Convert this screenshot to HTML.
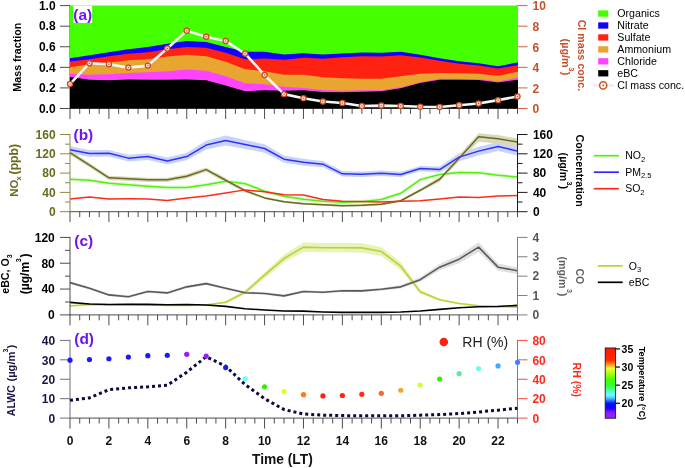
<!DOCTYPE html>
<html><head><meta charset="utf-8"><title>Diurnal variation</title>
<style>html,body{margin:0;padding:0;background:#fff}svg{display:block}</style></head>
<body>
<svg width="685" height="468" viewBox="0 0 685 468" font-family="'Liberation Sans', sans-serif">
<rect width="685" height="468" fill="#fff"/>
<path d="M70.00,108.50v10.4M79.73,108.50v5.4M89.46,108.50v5.4M99.18,108.50v5.4M108.91,108.50v10.4M118.64,108.50v5.4M128.37,108.50v5.4M138.10,108.50v5.4M147.83,108.50v10.4M157.55,108.50v5.4M167.28,108.50v5.4M177.01,108.50v5.4M186.74,108.50v10.4M196.47,108.50v5.4M206.20,108.50v5.4M215.92,108.50v5.4M225.65,108.50v10.4M235.38,108.50v5.4M245.11,108.50v5.4M254.84,108.50v5.4M264.57,108.50v10.4M274.29,108.50v5.4M284.02,108.50v5.4M293.75,108.50v5.4M303.48,108.50v10.4M313.21,108.50v5.4M322.93,108.50v5.4M332.66,108.50v5.4M342.39,108.50v10.4M352.12,108.50v5.4M361.85,108.50v5.4M371.58,108.50v5.4M381.30,108.50v10.4M391.03,108.50v5.4M400.76,108.50v5.4M410.49,108.50v5.4M420.22,108.50v10.4M429.95,108.50v5.4M439.67,108.50v5.4M449.40,108.50v5.4M459.13,108.50v10.4M468.86,108.50v5.4M478.59,108.50v5.4M488.32,108.50v5.4M498.04,108.50v10.4M507.77,108.50v5.4M517.50,108.50v5.4" stroke="#4d4d4d" stroke-width="1" fill="none"/>
<path d="M69.50,108.50H518.00" stroke="#4d4d4d" stroke-width="1" fill="none"/>
<path d="M70.00,5.10V109.00M70.00,5.60h-10M70.00,26.18h-10M70.00,46.76h-10M70.00,67.34h-10M70.00,87.92h-10M70.00,108.50h-10" stroke="#4d4d4d" stroke-width="1" fill="none"/>
<text x="55.6" y="9.90" text-anchor="end" font-size="12" font-weight="bold" fill="#000">1.0</text>
<text x="55.6" y="30.48" text-anchor="end" font-size="12" font-weight="bold" fill="#000">0.8</text>
<text x="55.6" y="51.06" text-anchor="end" font-size="12" font-weight="bold" fill="#000">0.6</text>
<text x="55.6" y="71.64" text-anchor="end" font-size="12" font-weight="bold" fill="#000">0.4</text>
<text x="55.6" y="92.22" text-anchor="end" font-size="12" font-weight="bold" fill="#000">0.2</text>
<text x="55.6" y="112.80" text-anchor="end" font-size="12" font-weight="bold" fill="#000">0.0</text>
<path d="M517.20,5.10V109.00M517.50,5.60h10M517.50,26.18h10M517.50,46.76h10M517.50,67.34h10M517.50,87.92h10M517.50,108.50h10" stroke="#d0623f" stroke-width="1" fill="none"/>
<text x="532.6" y="10.40" font-size="12" font-weight="bold" fill="#c8502a">10</text>
<text x="532.6" y="30.98" font-size="12" font-weight="bold" fill="#c8502a">8</text>
<text x="532.6" y="51.56" font-size="12" font-weight="bold" fill="#c8502a">6</text>
<text x="532.6" y="72.14" font-size="12" font-weight="bold" fill="#c8502a">4</text>
<text x="532.6" y="92.72" font-size="12" font-weight="bold" fill="#c8502a">2</text>
<text x="532.6" y="113.30" font-size="12" font-weight="bold" fill="#c8502a">0</text>
<polygon points="70.00,5.60 89.46,5.60 108.91,5.60 128.37,5.60 147.83,5.60 167.28,5.60 186.74,5.60 206.20,5.60 225.65,5.60 245.11,5.60 264.57,5.60 284.02,5.60 303.48,5.60 322.93,5.60 342.39,5.60 361.85,5.60 381.30,5.60 400.76,5.60 420.22,5.60 439.67,5.60 459.13,5.60 478.59,5.60 498.04,5.60 517.50,5.60 518.00,5.60 518.00,107.00 517.50,107.00 498.04,107.00 478.59,107.00 459.13,107.00 439.67,107.00 420.22,107.00 400.76,107.00 381.30,107.00 361.85,107.00 342.39,107.00 322.93,107.00 303.48,107.00 284.02,107.00 264.57,107.00 245.11,107.00 225.65,107.00 206.20,107.00 186.74,107.00 167.28,107.00 147.83,107.00 128.37,107.00 108.91,107.00 89.46,107.00 70.00,107.00" fill="#44ff00"/>
<polygon points="70.00,58.17 89.46,55.15 108.91,52.14 128.37,49.13 147.83,47.12 167.28,43.70 186.74,41.09 206.20,42.10 225.65,47.12 245.11,51.74 264.57,51.74 284.02,54.55 303.48,53.15 322.93,54.55 342.39,53.55 361.85,52.54 381.30,52.74 400.76,51.74 420.22,54.75 439.67,58.17 459.13,61.18 478.59,63.19 498.04,66.20 517.50,62.59 518.00,62.59 518.00,107.00 517.50,107.00 498.04,107.00 478.59,107.00 459.13,107.00 439.67,107.00 420.22,107.00 400.76,107.00 381.30,107.00 361.85,107.00 342.39,107.00 322.93,107.00 303.48,107.00 284.02,107.00 264.57,107.00 245.11,107.00 225.65,107.00 206.20,107.00 186.74,107.00 167.28,107.00 147.83,107.00 128.37,107.00 108.91,107.00 89.46,107.00 70.00,107.00" fill="#1100ff"/>
<polygon points="70.00,61.38 89.46,59.17 108.91,56.16 128.37,53.75 147.83,52.14 167.28,49.13 186.74,47.12 206.20,47.72 225.65,52.74 245.11,59.37 264.57,58.57 284.02,59.78 303.48,57.77 322.93,58.77 342.39,57.16 361.85,56.16 381.30,56.56 400.76,55.15 420.22,57.57 439.67,60.78 459.13,63.79 478.59,65.60 498.04,68.61 517.50,65.20 518.00,65.20 518.00,107.00 517.50,107.00 498.04,107.00 478.59,107.00 459.13,107.00 439.67,107.00 420.22,107.00 400.76,107.00 381.30,107.00 361.85,107.00 342.39,107.00 322.93,107.00 303.48,107.00 284.02,107.00 264.57,107.00 245.11,107.00 225.65,107.00 206.20,107.00 186.74,107.00 167.28,107.00 147.83,107.00 128.37,107.00 108.91,107.00 89.46,107.00 70.00,107.00" fill="#ff2211"/>
<polygon points="70.00,67.21 89.46,64.19 108.91,62.59 128.37,60.18 147.83,59.17 167.28,56.56 186.74,54.75 206.20,56.16 225.65,61.78 245.11,69.22 264.57,71.23 284.02,74.64 303.48,74.64 322.93,77.25 342.39,78.26 361.85,78.86 381.30,78.66 400.76,76.25 420.22,73.84 439.67,73.03 459.13,73.23 478.59,73.84 498.04,75.85 517.50,71.83 518.00,71.83 518.00,107.00 517.50,107.00 498.04,107.00 478.59,107.00 459.13,107.00 439.67,107.00 420.22,107.00 400.76,107.00 381.30,107.00 361.85,107.00 342.39,107.00 322.93,107.00 303.48,107.00 284.02,107.00 264.57,107.00 245.11,107.00 225.65,107.00 206.20,107.00 186.74,107.00 167.28,107.00 147.83,107.00 128.37,107.00 108.91,107.00 89.46,107.00 70.00,107.00" fill="#e8a530"/>
<polygon points="70.00,73.84 89.46,74.64 108.91,74.24 128.37,73.03 147.83,72.23 167.28,71.23 186.74,69.42 206.20,70.82 225.65,76.25 245.11,83.28 264.57,84.28 284.02,86.69 303.48,87.90 322.93,89.91 342.39,90.71 361.85,90.31 381.30,90.31 400.76,87.30 420.22,82.27 439.67,78.86 459.13,79.06 478.59,79.26 498.04,81.27 517.50,77.85 518.00,77.85 518.00,107.00 517.50,107.00 498.04,107.00 478.59,107.00 459.13,107.00 439.67,107.00 420.22,107.00 400.76,107.00 381.30,107.00 361.85,107.00 342.39,107.00 322.93,107.00 303.48,107.00 284.02,107.00 264.57,107.00 245.11,107.00 225.65,107.00 206.20,107.00 186.74,107.00 167.28,107.00 147.83,107.00 128.37,107.00 108.91,107.00 89.46,107.00 70.00,107.00" fill="#ff44ff"/>
<polygon points="70.00,77.05 89.46,79.86 108.91,80.27 128.37,79.46 147.83,79.66 167.28,79.86 186.74,79.46 206.20,80.27 225.65,85.49 245.11,91.31 264.57,90.31 284.02,90.71 303.48,90.31 322.93,91.92 342.39,92.32 361.85,91.72 381.30,91.31 400.76,88.30 420.22,83.08 439.67,79.86 459.13,79.86 478.59,80.06 498.04,82.47 517.50,79.66 518.00,79.66 518.00,108.50 517.50,108.50 498.04,108.50 478.59,108.50 459.13,108.50 439.67,108.50 420.22,108.50 400.76,108.50 381.30,108.50 361.85,108.50 342.39,108.50 322.93,108.50 303.48,108.50 284.02,108.50 264.57,108.50 245.11,108.50 225.65,108.50 206.20,108.50 186.74,108.50 167.28,108.50 147.83,108.50 128.37,108.50 108.91,108.50 89.46,108.50 70.00,108.50" fill="#000"/>
<rect x="73.3" y="5.8" width="18.8" height="17.2" fill="#fff"/>
<polyline points="70.00,84.08 89.46,63.19 108.91,64.19 128.37,67.61 147.83,65.60 167.28,48.53 186.74,30.65 206.20,36.67 225.65,41.09 245.11,53.55 264.57,75.04 284.02,94.13 303.48,98.34 322.93,101.56 342.39,102.97 361.85,105.98 381.30,105.58 400.76,105.98 420.22,106.78 439.67,106.98 459.13,105.17 478.59,103.57 498.04,100.15 517.50,96.54" fill="none" stroke="#f7f7f7" stroke-width="2.6" stroke-linejoin="round"/>
<circle cx="70.00" cy="84.08" r="2.6" fill="#f7dccf" stroke="#cc4a1e" stroke-width="1.25"/>
<circle cx="70.00" cy="84.08" r="0.7" fill="#c8502a"/>
<circle cx="89.46" cy="63.19" r="2.6" fill="#f7dccf" stroke="#cc4a1e" stroke-width="1.25"/>
<circle cx="89.46" cy="63.19" r="0.7" fill="#c8502a"/>
<circle cx="108.91" cy="64.19" r="2.6" fill="#f7dccf" stroke="#cc4a1e" stroke-width="1.25"/>
<circle cx="108.91" cy="64.19" r="0.7" fill="#c8502a"/>
<circle cx="128.37" cy="67.61" r="2.6" fill="#f7dccf" stroke="#cc4a1e" stroke-width="1.25"/>
<circle cx="128.37" cy="67.61" r="0.7" fill="#c8502a"/>
<circle cx="147.83" cy="65.60" r="2.6" fill="#f7dccf" stroke="#cc4a1e" stroke-width="1.25"/>
<circle cx="147.83" cy="65.60" r="0.7" fill="#c8502a"/>
<circle cx="167.28" cy="48.53" r="2.6" fill="#f7dccf" stroke="#cc4a1e" stroke-width="1.25"/>
<circle cx="167.28" cy="48.53" r="0.7" fill="#c8502a"/>
<circle cx="186.74" cy="30.65" r="2.6" fill="#f7dccf" stroke="#cc4a1e" stroke-width="1.25"/>
<circle cx="186.74" cy="30.65" r="0.7" fill="#c8502a"/>
<circle cx="206.20" cy="36.67" r="2.6" fill="#f7dccf" stroke="#cc4a1e" stroke-width="1.25"/>
<circle cx="206.20" cy="36.67" r="0.7" fill="#c8502a"/>
<circle cx="225.65" cy="41.09" r="2.6" fill="#f7dccf" stroke="#cc4a1e" stroke-width="1.25"/>
<circle cx="225.65" cy="41.09" r="0.7" fill="#c8502a"/>
<circle cx="245.11" cy="53.55" r="2.6" fill="#f7dccf" stroke="#cc4a1e" stroke-width="1.25"/>
<circle cx="245.11" cy="53.55" r="0.7" fill="#c8502a"/>
<circle cx="264.57" cy="75.04" r="2.6" fill="#f7dccf" stroke="#cc4a1e" stroke-width="1.25"/>
<circle cx="264.57" cy="75.04" r="0.7" fill="#c8502a"/>
<circle cx="284.02" cy="94.13" r="2.6" fill="#f7dccf" stroke="#cc4a1e" stroke-width="1.25"/>
<circle cx="284.02" cy="94.13" r="0.7" fill="#c8502a"/>
<circle cx="303.48" cy="98.34" r="2.6" fill="#f7dccf" stroke="#cc4a1e" stroke-width="1.25"/>
<circle cx="303.48" cy="98.34" r="0.7" fill="#c8502a"/>
<circle cx="322.93" cy="101.56" r="2.6" fill="#f7dccf" stroke="#cc4a1e" stroke-width="1.25"/>
<circle cx="322.93" cy="101.56" r="0.7" fill="#c8502a"/>
<circle cx="342.39" cy="102.97" r="2.6" fill="#f7dccf" stroke="#cc4a1e" stroke-width="1.25"/>
<circle cx="342.39" cy="102.97" r="0.7" fill="#c8502a"/>
<circle cx="361.85" cy="105.98" r="2.6" fill="#f7dccf" stroke="#cc4a1e" stroke-width="1.25"/>
<circle cx="361.85" cy="105.98" r="0.7" fill="#c8502a"/>
<circle cx="381.30" cy="105.58" r="2.6" fill="#f7dccf" stroke="#cc4a1e" stroke-width="1.25"/>
<circle cx="381.30" cy="105.58" r="0.7" fill="#c8502a"/>
<circle cx="400.76" cy="105.98" r="2.6" fill="#f7dccf" stroke="#cc4a1e" stroke-width="1.25"/>
<circle cx="400.76" cy="105.98" r="0.7" fill="#c8502a"/>
<circle cx="420.22" cy="106.78" r="2.6" fill="#f7dccf" stroke="#cc4a1e" stroke-width="1.25"/>
<circle cx="420.22" cy="106.78" r="0.7" fill="#c8502a"/>
<circle cx="439.67" cy="106.98" r="2.6" fill="#f7dccf" stroke="#cc4a1e" stroke-width="1.25"/>
<circle cx="439.67" cy="106.98" r="0.7" fill="#c8502a"/>
<circle cx="459.13" cy="105.17" r="2.6" fill="#f7dccf" stroke="#cc4a1e" stroke-width="1.25"/>
<circle cx="459.13" cy="105.17" r="0.7" fill="#c8502a"/>
<circle cx="478.59" cy="103.57" r="2.6" fill="#f7dccf" stroke="#cc4a1e" stroke-width="1.25"/>
<circle cx="478.59" cy="103.57" r="0.7" fill="#c8502a"/>
<circle cx="498.04" cy="100.15" r="2.6" fill="#f7dccf" stroke="#cc4a1e" stroke-width="1.25"/>
<circle cx="498.04" cy="100.15" r="0.7" fill="#c8502a"/>
<circle cx="517.50" cy="96.54" r="2.6" fill="#f7dccf" stroke="#cc4a1e" stroke-width="1.25"/>
<circle cx="517.50" cy="96.54" r="0.7" fill="#c8502a"/>
<text x="73.3" y="20.1" font-size="15.4" font-weight="bold" fill="#6e14f0">(a)</text>
<text transform="translate(20.5,57.2) rotate(-90)" text-anchor="middle" font-size="10.7" font-weight="bold" fill="#000">Mass fraction</text>
<text transform="translate(578.4,0) rotate(90)" font-weight="bold" fill="#c8502a"><tspan x="19.70" y="0.00" font-size="10.65">Cl mass conc.</tspan></text>
<text transform="translate(561.9,0) rotate(90)" font-weight="bold" fill="#c8502a"><tspan x="38.60" y="0.00" font-size="10.8">(µg/m</tspan><tspan x="67.20" y="-7.00" font-size="7.5">3</tspan><tspan x="71.80" y="0.00" font-size="10.8">)</tspan></text>
<rect x="598.2" y="10.40" width="10.1" height="6.3" fill="#44ff00"/>
<text x="617.3" y="17.20" font-size="10.65" fill="#000">Organics</text>
<rect x="598.2" y="22.35" width="10.1" height="6.3" fill="#1100ff"/>
<text x="617.3" y="29.15" font-size="10.65" fill="#000">Nitrate</text>
<rect x="598.2" y="34.30" width="10.1" height="6.3" fill="#ff2211"/>
<text x="617.3" y="41.10" font-size="10.65" fill="#000">Sulfate</text>
<rect x="598.2" y="46.25" width="10.1" height="6.3" fill="#e8a530"/>
<text x="617.3" y="53.05" font-size="10.65" fill="#000">Ammonium</text>
<rect x="598.2" y="58.20" width="10.1" height="6.3" fill="#ff44ff"/>
<text x="617.3" y="65.00" font-size="10.65" fill="#000">Chloride</text>
<rect x="598.2" y="70.15" width="10.1" height="6.3" fill="#000"/>
<text x="617.3" y="76.95" font-size="10.65" fill="#000">eBC</text>
<path d="M593,85.40H613.5" stroke="#ececec" stroke-width="2.4"/>
<circle cx="603.2" cy="85.40" r="3.55" fill="#fff" stroke="#d0501e" stroke-width="1.5"/>
<circle cx="603.2" cy="85.40" r="0.9" fill="#c8502a"/>
<text x="617.3" y="89.00" font-size="10.65" fill="#000">Cl mass conc.</text>
<polygon points="70.00,146.20 89.46,150.12 108.91,150.02 128.37,154.84 147.83,153.13 167.28,157.45 186.74,152.73 206.20,140.78 225.65,135.46 245.11,139.98 264.57,144.20 284.02,155.45 303.48,158.66 322.93,161.07 342.39,171.01 361.85,171.51 381.30,170.51 400.76,171.71 420.22,165.89 439.67,166.59 459.13,153.14 478.59,146.81 498.04,141.99 517.50,146.61 517.50,155.61 498.04,150.99 478.59,155.41 459.13,161.14 439.67,172.59 420.22,171.29 400.76,177.11 381.30,175.91 361.85,176.91 342.39,176.61 322.93,167.27 303.48,165.66 284.02,162.85 264.57,152.80 245.11,148.98 225.65,145.46 206.20,149.38 186.74,160.33 167.28,164.45 147.83,159.93 128.37,161.44 108.91,156.62 89.46,156.92 70.00,153.20" fill="#c9d4fb"/>
<polygon points="70.00,150.52 89.46,162.97 108.91,175.63 128.37,176.63 147.83,177.64 167.28,177.64 186.74,174.02 206.20,167.39 225.65,178.04 245.11,189.18 264.57,196.82 284.02,200.63 303.48,202.64 322.93,203.65 342.39,204.65 361.85,204.25 381.30,203.24 400.76,199.63 420.22,188.78 439.67,176.83 459.13,155.14 478.59,133.15 498.04,135.06 517.50,138.47 517.50,147.27 498.04,143.86 478.59,141.65 459.13,161.14 439.67,181.63 420.22,191.78 400.76,201.83 381.30,205.44 361.85,206.45 342.39,206.85 322.93,205.85 303.48,204.84 284.02,202.83 264.57,199.02 245.11,192.18 225.65,182.44 206.20,171.79 186.74,178.42 167.28,182.04 147.83,182.04 128.37,181.03 108.91,180.03 89.46,167.37 70.00,154.92" fill="#d9d9c0"/>
<polygon points="70.00,177.23 89.46,178.24 108.91,181.25 128.37,182.66 147.83,184.27 167.28,185.47 186.74,185.47 206.20,182.86 225.65,179.24 245.11,181.65 264.57,189.29 284.02,194.31 303.48,197.32 322.93,199.33 342.39,200.34 361.85,199.73 381.30,197.52 400.76,191.30 420.22,177.64 439.67,172.41 459.13,170.61 478.59,170.81 498.04,173.22 517.50,175.02 517.50,179.02 498.04,177.22 478.59,174.81 459.13,174.61 439.67,176.41 420.22,181.64 400.76,195.30 381.30,201.52 361.85,203.73 342.39,204.34 322.93,203.33 303.48,201.32 284.02,198.31 264.57,193.29 245.11,185.65 225.65,183.24 206.20,186.86 186.74,189.47 167.28,189.47 147.83,188.27 128.37,186.66 108.91,185.25 89.46,182.24 70.00,181.23" fill="#e2fbd6"/>
<polyline points="70.00,179.23 89.46,180.24 108.91,183.25 128.37,184.66 147.83,186.27 167.28,187.47 186.74,187.47 206.20,184.86 225.65,181.24 245.11,183.65 264.57,191.29 284.02,196.31 303.48,199.32 322.93,201.33 342.39,202.34 361.85,201.73 381.30,199.52 400.76,193.30 420.22,179.64 439.67,174.41 459.13,172.61 478.59,172.81 498.04,175.22 517.50,177.02" fill="none" stroke="#55ee11" stroke-width="1.5" stroke-linejoin="round"/>
<polyline points="70.00,152.72 89.46,165.17 108.91,177.83 128.37,178.83 147.83,179.84 167.28,179.84 186.74,176.22 206.20,169.59 225.65,180.24 245.11,190.68 264.57,197.92 284.02,201.73 303.48,203.74 322.93,204.75 342.39,205.75 361.85,205.35 381.30,204.34 400.76,200.73 420.22,190.28 439.67,179.23 459.13,158.14 478.59,136.65 498.04,138.66 517.50,142.07" fill="none" stroke="#6b6b1e" stroke-width="1.5" stroke-linejoin="round"/>
<polyline points="70.00,199.12 89.46,196.91 108.91,198.92 128.37,198.72 147.83,198.92 167.28,200.53 186.74,197.92 206.20,195.91 225.65,192.89 245.11,189.88 264.57,191.69 284.02,194.70 303.48,194.90 322.93,199.52 342.39,201.33 361.85,201.53 381.30,201.93 400.76,201.33 420.22,200.73 439.67,198.92 459.13,197.11 478.59,197.51 498.04,196.11 517.50,195.51" fill="none" stroke="#ff2a1a" stroke-width="1.5" stroke-linejoin="round"/>
<polyline points="70.00,149.70 89.46,153.52 108.91,153.32 128.37,158.14 147.83,156.53 167.28,160.95 186.74,156.53 206.20,145.08 225.65,140.46 245.11,144.48 264.57,148.50 284.02,159.15 303.48,162.16 322.93,164.17 342.39,173.81 361.85,174.21 381.30,173.21 400.76,174.41 420.22,168.59 439.67,169.59 459.13,157.14 478.59,151.11 498.04,146.49 517.50,151.11" fill="none" stroke="#3030ff" stroke-width="1.5" stroke-linejoin="round"/>
<path d="M70.00,211.70v10.4M79.73,211.70v5.4M89.46,211.70v5.4M99.18,211.70v5.4M108.91,211.70v10.4M118.64,211.70v5.4M128.37,211.70v5.4M138.10,211.70v5.4M147.83,211.70v10.4M157.55,211.70v5.4M167.28,211.70v5.4M177.01,211.70v5.4M186.74,211.70v10.4M196.47,211.70v5.4M206.20,211.70v5.4M215.92,211.70v5.4M225.65,211.70v10.4M235.38,211.70v5.4M245.11,211.70v5.4M254.84,211.70v5.4M264.57,211.70v10.4M274.29,211.70v5.4M284.02,211.70v5.4M293.75,211.70v5.4M303.48,211.70v10.4M313.21,211.70v5.4M322.93,211.70v5.4M332.66,211.70v5.4M342.39,211.70v10.4M352.12,211.70v5.4M361.85,211.70v5.4M371.58,211.70v5.4M381.30,211.70v10.4M391.03,211.70v5.4M400.76,211.70v5.4M410.49,211.70v5.4M420.22,211.70v10.4M429.95,211.70v5.4M439.67,211.70v5.4M449.40,211.70v5.4M459.13,211.70v10.4M468.86,211.70v5.4M478.59,211.70v5.4M488.32,211.70v5.4M498.04,211.70v10.4M507.77,211.70v5.4M517.50,211.70v5.4" stroke="#4d4d4d" stroke-width="1" fill="none"/>
<path d="M69.50,211.70H518.00" stroke="#4d4d4d" stroke-width="1" fill="none"/>
<path d="M70.00,134.00V212.20M70.00,134.50h-10M70.00,144.15h-5M70.00,153.80h-10M70.00,163.45h-5M70.00,173.10h-10M70.00,182.75h-5M70.00,192.40h-10M70.00,202.05h-5M70.00,211.70h-10" stroke="#8a8a4a" stroke-width="1" fill="none"/>
<text x="55.6" y="138.80" text-anchor="end" font-size="12" font-weight="bold" fill="#6b6b1e">160</text>
<text x="55.6" y="158.10" text-anchor="end" font-size="12" font-weight="bold" fill="#6b6b1e">120</text>
<text x="55.6" y="177.40" text-anchor="end" font-size="12" font-weight="bold" fill="#6b6b1e">80</text>
<text x="55.6" y="196.70" text-anchor="end" font-size="12" font-weight="bold" fill="#6b6b1e">40</text>
<text x="55.6" y="216.00" text-anchor="end" font-size="12" font-weight="bold" fill="#6b6b1e">0</text>
<path d="M517.50,134.00V212.20M517.50,134.50h10M517.50,144.15h5M517.50,153.80h10M517.50,163.45h5M517.50,173.10h10M517.50,182.75h5M517.50,192.40h10M517.50,202.05h5M517.50,211.70h10" stroke="#1a1a1a" stroke-width="1" fill="none"/>
<text x="532.9" y="138.80" font-size="12" font-weight="bold" fill="#000">160</text>
<text x="532.9" y="158.10" font-size="12" font-weight="bold" fill="#000">120</text>
<text x="532.9" y="177.40" font-size="12" font-weight="bold" fill="#000">80</text>
<text x="532.9" y="196.70" font-size="12" font-weight="bold" fill="#000">40</text>
<text x="532.9" y="216.00" font-size="12" font-weight="bold" fill="#000">0</text>
<text x="73.6" y="139.6" font-size="15.4" font-weight="bold" fill="#6e14f0">(b)</text>
<text transform="translate(18.2,0) rotate(-90)" font-weight="bold" fill="#6b6b1e"><tspan x="-196.70" y="0.00" font-size="11.3">NO</tspan><tspan x="-180.40" y="2.70" font-size="7.5">x</tspan><tspan x="-174.40" y="0.00" font-size="12.2">(ppb)</tspan></text>
<text transform="translate(576.0,0) rotate(90)" font-weight="bold" fill="#000"><tspan x="134.60" y="0.00" font-size="10.66">Concentration</tspan></text>
<text transform="translate(559.6,0) rotate(90)" font-weight="bold" fill="#000"><tspan x="152.60" y="0.00" font-size="10.7">(µg/m</tspan><tspan x="181.40" y="-7.40" font-size="7">3</tspan><tspan x="185.50" y="0.00" font-size="10.7">)</tspan></text>
<path d="M593.8,155.70H618.9" stroke="#55ee11" stroke-width="1.7"/>
<text x="625.2" y="159.20" font-size="10.5" fill="#000">NO<tspan dy="2.6" font-size="7.5">2</tspan></text>
<path d="M593.8,172.20H618.9" stroke="#2a2aff" stroke-width="1.7"/>
<text x="625.2" y="175.70" font-size="10.5" fill="#000">PM<tspan dy="2.6" font-size="7.5">2.5</tspan></text>
<path d="M593.8,188.70H618.9" stroke="#ff2a1a" stroke-width="1.7"/>
<text x="625.2" y="192.20" font-size="10.5" fill="#000">SO<tspan dy="2.6" font-size="7.5">2</tspan></text>
<polygon points="70.00,305.34 89.46,303.74 108.91,304.14 128.37,303.94 147.83,304.34 167.28,304.74 186.74,304.74 206.20,304.34 225.65,301.13 245.11,290.28 264.57,272.21 284.02,254.53 303.48,242.48 322.93,243.09 342.39,243.09 361.85,243.29 381.30,247.00 400.76,262.17 420.22,289.68 439.67,298.72 459.13,302.83 478.59,305.14 498.04,305.74 517.50,306.55 517.50,307.75 498.04,306.94 478.59,306.34 459.13,304.23 439.67,300.72 420.22,293.68 400.76,270.17 381.30,256.00 361.85,252.49 342.39,252.29 322.93,252.29 303.48,251.68 284.02,262.53 264.57,278.21 245.11,294.28 225.65,303.53 206.20,305.54 186.74,305.94 167.28,305.94 147.83,305.54 128.37,305.14 108.91,305.34 89.46,304.94 70.00,306.54" fill="#e6f3bb"/>
<polygon points="70.00,281.34 89.46,286.97 108.91,293.59 128.37,295.40 147.83,290.18 167.28,291.59 186.74,285.56 206.20,282.34 225.65,286.97 245.11,291.38 264.57,292.19 284.02,294.60 303.48,290.18 322.93,290.98 342.39,289.38 361.85,289.58 381.30,287.97 400.76,285.26 420.22,277.23 439.67,263.97 459.13,255.14 478.59,242.28 498.04,263.57 517.50,267.49 517.50,274.09 498.04,270.77 478.59,251.88 459.13,263.14 439.67,270.37 420.22,282.03 400.76,288.46 381.30,290.57 361.85,292.18 342.39,291.98 322.93,293.58 303.48,292.78 284.02,297.20 264.57,294.79 245.11,293.98 225.65,289.57 206.20,284.94 186.74,288.16 167.28,294.19 147.83,292.78 128.37,298.00 108.91,296.19 89.46,289.57 70.00,283.94" fill="#e0e0e0"/>
<polyline points="70.00,305.94 89.46,304.34 108.91,304.74 128.37,304.54 147.83,304.94 167.28,305.34 186.74,305.34 206.20,304.94 225.65,302.33 245.11,292.28 264.57,275.21 284.02,258.53 303.48,247.08 322.93,247.69 342.39,247.69 361.85,247.89 381.30,251.50 400.76,266.17 420.22,291.68 439.67,299.72 459.13,303.53 478.59,305.74 498.04,306.34 517.50,307.15" fill="none" stroke="#b8d430" stroke-width="1.6" stroke-linejoin="round"/>
<polyline points="70.00,282.64 89.46,288.27 108.91,294.89 128.37,296.70 147.83,291.48 167.28,292.89 186.74,286.86 206.20,283.64 225.65,288.27 245.11,292.68 264.57,293.49 284.02,295.90 303.48,291.48 322.93,292.28 342.39,290.68 361.85,290.88 381.30,289.27 400.76,286.86 420.22,279.63 439.67,267.17 459.13,259.14 478.59,247.08 498.04,267.17 517.50,270.79" fill="none" stroke="#5a5a5a" stroke-width="1.6" stroke-linejoin="round"/>
<polyline points="70.00,302.33 89.46,303.93 108.91,304.54 128.37,304.34 147.83,304.34 167.28,304.74 186.74,304.54 206.20,304.94 225.65,306.34 245.11,308.76 264.57,309.96 284.02,310.97 303.48,311.17 322.93,311.97 342.39,312.37 361.85,312.37 381.30,312.37 400.76,311.97 420.22,310.97 439.67,309.36 459.13,307.75 478.59,306.75 498.04,306.55 517.50,305.34" fill="none" stroke="#000" stroke-width="1.6" stroke-linejoin="round"/>
<path d="M70.00,314.90v10.4M79.73,314.90v5.4M89.46,314.90v5.4M99.18,314.90v5.4M108.91,314.90v10.4M118.64,314.90v5.4M128.37,314.90v5.4M138.10,314.90v5.4M147.83,314.90v10.4M157.55,314.90v5.4M167.28,314.90v5.4M177.01,314.90v5.4M186.74,314.90v10.4M196.47,314.90v5.4M206.20,314.90v5.4M215.92,314.90v5.4M225.65,314.90v10.4M235.38,314.90v5.4M245.11,314.90v5.4M254.84,314.90v5.4M264.57,314.90v10.4M274.29,314.90v5.4M284.02,314.90v5.4M293.75,314.90v5.4M303.48,314.90v10.4M313.21,314.90v5.4M322.93,314.90v5.4M332.66,314.90v5.4M342.39,314.90v10.4M352.12,314.90v5.4M361.85,314.90v5.4M371.58,314.90v5.4M381.30,314.90v10.4M391.03,314.90v5.4M400.76,314.90v5.4M410.49,314.90v5.4M420.22,314.90v10.4M429.95,314.90v5.4M439.67,314.90v5.4M449.40,314.90v5.4M459.13,314.90v10.4M468.86,314.90v5.4M478.59,314.90v5.4M488.32,314.90v5.4M498.04,314.90v10.4M507.77,314.90v5.4M517.50,314.90v5.4" stroke="#4d4d4d" stroke-width="1" fill="none"/>
<path d="M69.50,314.90H518.00" stroke="#4d4d4d" stroke-width="1" fill="none"/>
<path d="M70.00,236.90V315.40M70.00,237.40h-10M70.00,250.32h-5M70.00,263.23h-10M70.00,276.15h-5M70.00,289.07h-10M70.00,301.98h-5M70.00,314.90h-10" stroke="#4d4d4d" stroke-width="1" fill="none"/>
<text x="54.8" y="241.70" text-anchor="end" font-size="12" font-weight="bold" fill="#000">120</text>
<text x="54.8" y="267.53" text-anchor="end" font-size="12" font-weight="bold" fill="#000">80</text>
<text x="54.8" y="293.37" text-anchor="end" font-size="12" font-weight="bold" fill="#000">40</text>
<text x="54.8" y="319.20" text-anchor="end" font-size="12" font-weight="bold" fill="#000">0</text>
<path d="M517.50,236.90V315.40M517.50,237.40h10M517.50,256.77h10M517.50,276.15h10M517.50,295.52h10M517.50,314.90h10" stroke="#808080" stroke-width="1" fill="none"/>
<text x="532.4" y="241.70" font-size="12" font-weight="bold" fill="#555">4</text>
<text x="532.4" y="261.07" font-size="12" font-weight="bold" fill="#555">3</text>
<text x="532.4" y="280.45" font-size="12" font-weight="bold" fill="#555">2</text>
<text x="532.4" y="299.82" font-size="12" font-weight="bold" fill="#555">1</text>
<text x="532.4" y="319.20" font-size="12" font-weight="bold" fill="#555">0</text>
<text x="74.3" y="245.5" font-size="15.4" font-weight="bold" fill="#6e14f0">(c)</text>
<text transform="translate(8.6,0) rotate(-90)" font-weight="bold" fill="#000"><tspan x="-293.80" y="0.00" font-size="10.7">eBC, O</tspan><tspan x="-258.20" y="3.40" font-size="7">3</tspan></text>
<text transform="translate(28.8,0) rotate(-90)" font-weight="bold" fill="#000"><tspan x="-294.20" y="0.00" font-size="12">(µg/m</tspan><tspan x="-262.20" y="-7.70" font-size="7">3</tspan><tspan x="-257.40" y="0.00" font-size="12">)</tspan></text>
<text transform="translate(575.6,276.3) rotate(90)" text-anchor="middle" font-size="10.5" font-weight="bold" fill="#606060">CO</text>
<text transform="translate(559.2,0) rotate(90)" font-weight="bold" fill="#606060"><tspan x="256.40" y="0.00" font-size="10.7">(mg/m</tspan><tspan x="289.00" y="-7.40" font-size="7">3</tspan><tspan x="292.70" y="0.00" font-size="10.7">)</tspan></text>
<path d="M597.8,265.90H622.7" stroke="#b8d430" stroke-width="1.7"/>
<text x="628.8" y="269.70" font-size="10.5" fill="#000">O<tspan dy="2.6" font-size="7.5">3</tspan></text>
<path d="M597.8,282.30H622.7" stroke="#000" stroke-width="1.7"/>
<text x="628.8" y="286.10" font-size="10.5" fill="#000">eBC</text>
<path d="M70.00,418.10v10.4M79.73,418.10v5.4M89.46,418.10v5.4M99.18,418.10v5.4M108.91,418.10v10.4M118.64,418.10v5.4M128.37,418.10v5.4M138.10,418.10v5.4M147.83,418.10v10.4M157.55,418.10v5.4M167.28,418.10v5.4M177.01,418.10v5.4M186.74,418.10v10.4M196.47,418.10v5.4M206.20,418.10v5.4M215.92,418.10v5.4M225.65,418.10v10.4M235.38,418.10v5.4M245.11,418.10v5.4M254.84,418.10v5.4M264.57,418.10v10.4M274.29,418.10v5.4M284.02,418.10v5.4M293.75,418.10v5.4M303.48,418.10v10.4M313.21,418.10v5.4M322.93,418.10v5.4M332.66,418.10v5.4M342.39,418.10v10.4M352.12,418.10v5.4M361.85,418.10v5.4M371.58,418.10v5.4M381.30,418.10v10.4M391.03,418.10v5.4M400.76,418.10v5.4M410.49,418.10v5.4M420.22,418.10v10.4M429.95,418.10v5.4M439.67,418.10v5.4M449.40,418.10v5.4M459.13,418.10v10.4M468.86,418.10v5.4M478.59,418.10v5.4M488.32,418.10v5.4M498.04,418.10v10.4M507.77,418.10v5.4M517.50,418.10v5.4" stroke="#4d4d4d" stroke-width="1" fill="none"/>
<path d="M69.50,418.10H518.00" stroke="#4d4d4d" stroke-width="1" fill="none"/>
<path d="M70.00,339.90V418.60M70.00,340.40h-10M70.00,359.82h-10M70.00,379.25h-10M70.00,398.68h-10M70.00,418.10h-10" stroke="#6e6e82" stroke-width="1" fill="none"/>
<text x="55.2" y="345.20" text-anchor="end" font-size="12" font-weight="bold" fill="#1a1446">40</text>
<text x="55.2" y="364.62" text-anchor="end" font-size="12" font-weight="bold" fill="#1a1446">30</text>
<text x="55.2" y="384.05" text-anchor="end" font-size="12" font-weight="bold" fill="#1a1446">20</text>
<text x="55.2" y="403.48" text-anchor="end" font-size="12" font-weight="bold" fill="#1a1446">10</text>
<text x="55.2" y="422.90" text-anchor="end" font-size="12" font-weight="bold" fill="#1a1446">0</text>
<path d="M517.50,339.90V418.60M517.50,340.40h10M517.50,359.82h10M517.50,379.25h10M517.50,398.68h10M517.50,418.10h10" stroke="#ff4a3a" stroke-width="1" fill="none"/>
<text x="532.4" y="345.20" font-size="12" font-weight="bold" fill="#ff2a1a">80</text>
<text x="532.4" y="364.62" font-size="12" font-weight="bold" fill="#ff2a1a">60</text>
<text x="532.4" y="384.05" font-size="12" font-weight="bold" fill="#ff2a1a">40</text>
<text x="532.4" y="403.48" font-size="12" font-weight="bold" fill="#ff2a1a">20</text>
<text x="532.4" y="422.90" font-size="12" font-weight="bold" fill="#ff2a1a">0</text>
<polyline points="70.00,400.31 89.46,397.90 108.91,389.66 128.37,387.85 147.83,386.85 167.28,385.24 186.74,372.19 206.20,356.72 225.65,366.16 245.11,384.64 264.57,398.70 284.02,409.55 303.48,413.97 322.93,415.17 342.39,415.58 361.85,415.78 381.30,415.78 400.76,415.78 420.22,415.17 439.67,414.57 459.13,413.57 478.59,411.96 498.04,410.15 517.50,408.14" fill="none" stroke="#0d0a3a" stroke-width="3" stroke-dasharray="3 3" stroke-linejoin="round"/>
<circle cx="70.00" cy="360.13" r="2.6" fill="#1a1aff"/>
<circle cx="89.46" cy="359.53" r="2.6" fill="#1a1aff"/>
<circle cx="108.91" cy="358.73" r="2.6" fill="#1a1aff"/>
<circle cx="128.37" cy="357.12" r="2.6" fill="#1a1aff"/>
<circle cx="147.83" cy="355.71" r="2.6" fill="#1a1aff"/>
<circle cx="167.28" cy="355.31" r="2.6" fill="#1a1aff"/>
<circle cx="186.74" cy="354.31" r="2.6" fill="#9a1aff"/>
<circle cx="206.20" cy="356.11" r="2.6" fill="#9a1aff"/>
<circle cx="225.65" cy="367.57" r="2.6" fill="#1a1aff"/>
<circle cx="245.11" cy="378.81" r="2.6" fill="#66ffff"/>
<circle cx="264.57" cy="386.85" r="2.6" fill="#33ee00"/>
<circle cx="284.02" cy="391.67" r="2.6" fill="#ddff33"/>
<circle cx="303.48" cy="394.68" r="2.6" fill="#ff7722"/>
<circle cx="322.93" cy="395.89" r="2.6" fill="#ff2211"/>
<circle cx="342.39" cy="395.49" r="2.6" fill="#ff2211"/>
<circle cx="361.85" cy="394.28" r="2.6" fill="#ff2a11"/>
<circle cx="381.30" cy="393.28" r="2.6" fill="#ff6622"/>
<circle cx="400.76" cy="390.27" r="2.6" fill="#eeaa33"/>
<circle cx="420.22" cy="385.04" r="2.6" fill="#ccff33"/>
<circle cx="439.67" cy="379.02" r="2.6" fill="#33ee00"/>
<circle cx="459.13" cy="373.59" r="2.6" fill="#55ee99"/>
<circle cx="478.59" cy="368.57" r="2.6" fill="#66ffee"/>
<circle cx="498.04" cy="365.96" r="2.6" fill="#44aaff"/>
<circle cx="517.50" cy="362.34" r="2.6" fill="#4080ff"/>
<text x="74.3" y="343.5" font-size="15.4" font-weight="bold" fill="#6e14f0">(d)</text>
<circle cx="443.8" cy="342" r="4.3" fill="#ff2211"/>
<text x="462.3" y="346.8" font-size="14" fill="#222">RH (%)</text>
<text transform="translate(15.1,0) rotate(-90)" font-weight="bold" fill="#1a1446"><tspan x="-416.20" y="0.00" font-size="10.5">ALWC</tspan><tspan x="-381.60" y="0.00" font-size="11.2">(µg/m</tspan><tspan x="-352.50" y="-7.10" font-size="7">3</tspan><tspan x="-348.40" y="0.00" font-size="11.2">)</tspan></text>
<text transform="translate(572.5,379.8) rotate(90)" text-anchor="middle" font-size="10.5" font-weight="bold" fill="#ff2a1a">RH (%)</text>
<text x="70.00" y="444.7" text-anchor="middle" font-size="12" font-weight="bold" fill="#111">0</text>
<text x="108.91" y="444.7" text-anchor="middle" font-size="12" font-weight="bold" fill="#111">2</text>
<text x="147.83" y="444.7" text-anchor="middle" font-size="12" font-weight="bold" fill="#111">4</text>
<text x="186.74" y="444.7" text-anchor="middle" font-size="12" font-weight="bold" fill="#111">6</text>
<text x="225.65" y="444.7" text-anchor="middle" font-size="12" font-weight="bold" fill="#111">8</text>
<text x="264.57" y="444.7" text-anchor="middle" font-size="12" font-weight="bold" fill="#111">10</text>
<text x="303.48" y="444.7" text-anchor="middle" font-size="12" font-weight="bold" fill="#111">12</text>
<text x="342.39" y="444.7" text-anchor="middle" font-size="12" font-weight="bold" fill="#111">14</text>
<text x="381.30" y="444.7" text-anchor="middle" font-size="12" font-weight="bold" fill="#111">16</text>
<text x="420.22" y="444.7" text-anchor="middle" font-size="12" font-weight="bold" fill="#111">18</text>
<text x="459.13" y="444.7" text-anchor="middle" font-size="12" font-weight="bold" fill="#111">20</text>
<text x="498.04" y="444.7" text-anchor="middle" font-size="12" font-weight="bold" fill="#111">22</text>
<text x="282.4" y="463.8" text-anchor="middle" font-size="13.8" font-weight="bold" fill="#111">Time (LT)</text>
<defs><linearGradient id="cb" x1="0" y1="0" x2="0" y2="1"><stop offset="0" stop-color="#ff1a00"/><stop offset="0.17" stop-color="#ff2a00"/><stop offset="0.24" stop-color="#ff9922"/><stop offset="0.29" stop-color="#eeff33"/><stop offset="0.33" stop-color="#ccff22"/><stop offset="0.45" stop-color="#44ff00"/><stop offset="0.54" stop-color="#33ff33"/><stop offset="0.62" stop-color="#55ffcc"/><stop offset="0.67" stop-color="#66ffff"/><stop offset="0.71" stop-color="#55ccff"/><stop offset="0.79" stop-color="#0011ff"/><stop offset="0.86" stop-color="#1a00ff"/><stop offset="0.92" stop-color="#8a1cff"/><stop offset="1" stop-color="#9922ff"/></linearGradient></defs>
<rect x="605.2" y="348" width="10.4" height="70.2" fill="url(#cb)" stroke="#1a1a1a" stroke-width="0.9"/>
<path d="M615.7,348.90h4.2" stroke="#000" stroke-width="1.2"/>
<text x="621.6" y="352.70" font-size="10.5" font-weight="bold" fill="#000">35</text>
<path d="M615.7,367.03h4.2" stroke="#000" stroke-width="1.2"/>
<text x="621.6" y="370.83" font-size="10.5" font-weight="bold" fill="#000">30</text>
<path d="M615.7,385.16h4.2" stroke="#000" stroke-width="1.2"/>
<text x="621.6" y="388.96" font-size="10.5" font-weight="bold" fill="#000">25</text>
<path d="M615.7,403.29h4.2" stroke="#000" stroke-width="1.2"/>
<text x="621.6" y="407.09" font-size="10.5" font-weight="bold" fill="#000">20</text>
<text transform="translate(639.3,383.4) rotate(90)" text-anchor="middle" font-size="9.13" font-weight="bold" fill="#000">Temperature (°C)</text>
</svg>
</body></html>
